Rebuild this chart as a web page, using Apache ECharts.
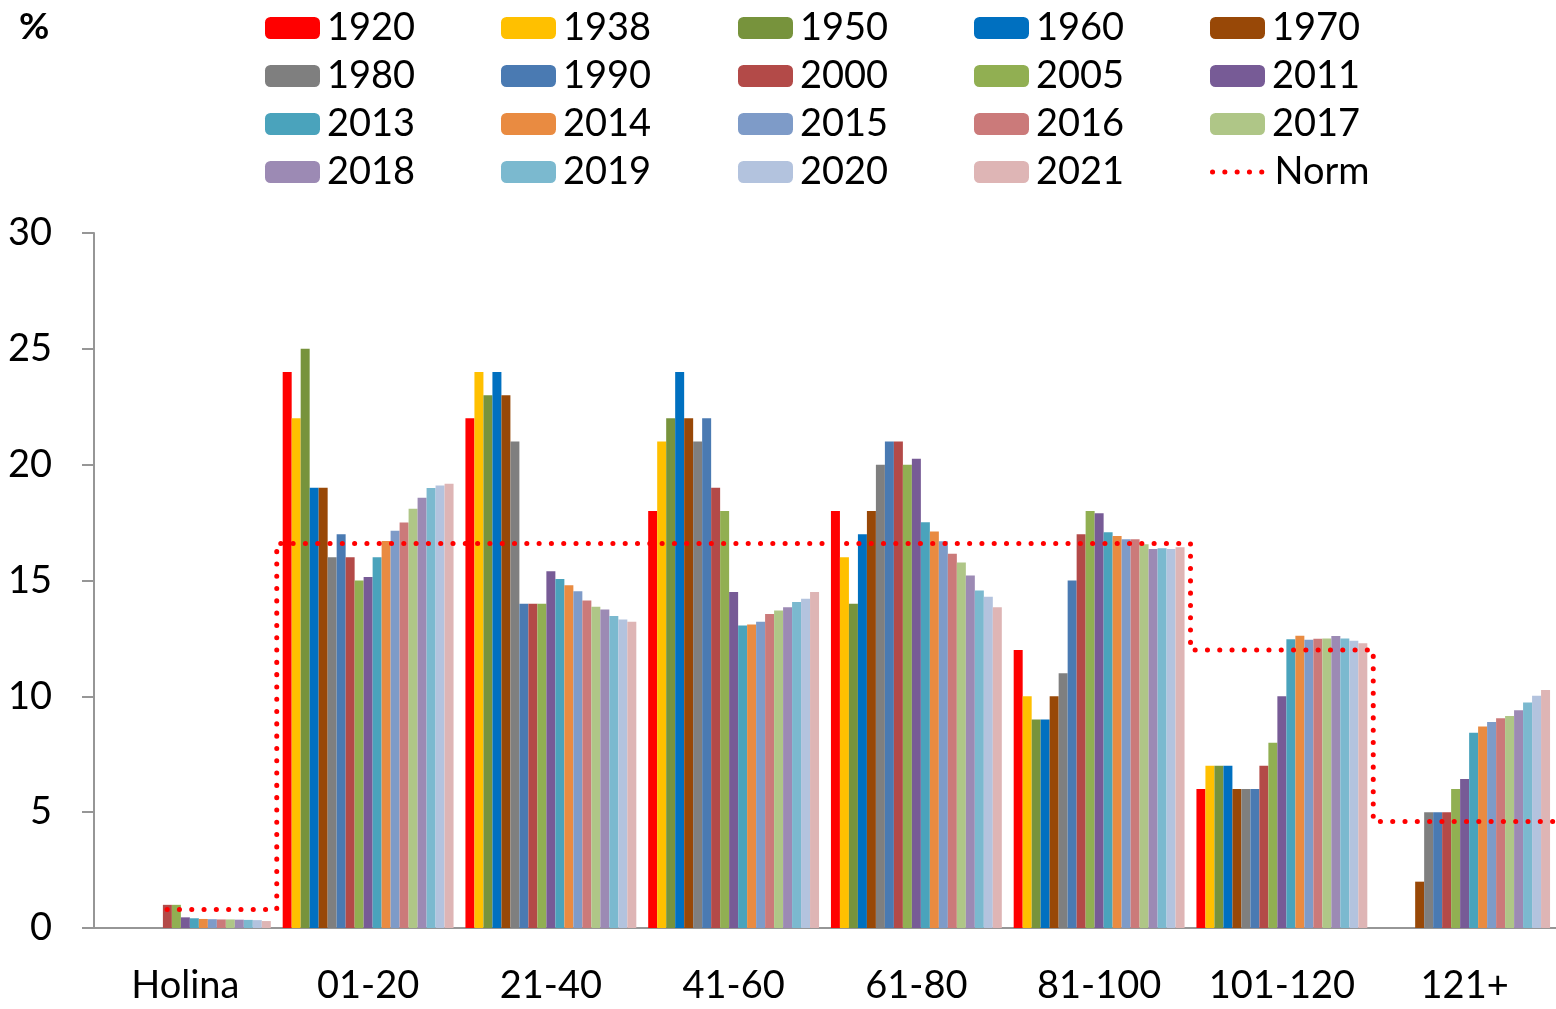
<!DOCTYPE html>
<html>
<head>
<meta charset="utf-8">
<script src="https://cdn.jsdelivr.net/npm/echarts@6/dist/echarts.min.js"></script>
<style>
html,body{margin:0;padding:0;background:#fff;}
#chart{width:1556px;height:1009px;}
</style>
</head>
<body>
<div id="chart"></div>
<script>
// ---- data ----
const categories = ['Holina', '01-20', '21-40', '41-60', '61-80', '81-100', '101-120', '121+'];
const years = ['1920','1938','1950','1960','1970','1980','1990','2000','2005','2011','2013','2014','2015','2016','2017','2018','2019','2020','2021'];
const yTicks = [0, 5, 10, 15, 20, 25, 30];

const s1920 = [0, 24, 22, 18, 18, 12, 6, 0];
const s1938 = [0, 22, 24, 21, 16, 10, 7, 0];
const s1950 = [0, 25, 23, 22, 14, 9, 7, 0];
const s1960 = [0, 19, 24, 24, 17, 9, 7, 0];
const s1970 = [0, 19, 23, 22, 18, 10, 6, 2];
const s1980 = [0, 16, 21, 21, 20, 11, 6, 5];
const s1990 = [0, 17, 14, 22, 21, 15, 6, 5];
const s2000 = [1, 16, 14, 19, 21, 17, 7, 5];
const s2005 = [1, 15, 14, 18, 20, 18, 8, 6];
const s2011 = [0.46, 15.15, 15.4, 14.5, 20.26, 17.9, 10, 6.43];
const s2013 = [0.42, 16.0, 15.06, 13.06, 17.51, 17.08, 12.46, 8.43];
const s2014 = [0.39, 16.7, 14.8, 13.1, 17.12, 16.92, 12.62, 8.7];
const s2015 = [0.38, 17.15, 14.54, 13.22, 16.69, 16.78, 12.44, 8.89];
const s2016 = [0.37, 17.5, 14.14, 13.55, 16.16, 16.78, 12.49, 9.05];
const s2017 = [0.37, 18.1, 13.87, 13.71, 15.78, 16.57, 12.5, 9.15];
const s2018 = [0.36, 18.57, 13.75, 13.84, 15.22, 16.36, 12.6, 9.4];
const s2019 = [0.35, 18.99, 13.47, 14.07, 14.57, 16.39, 12.5, 9.73];
const s2020 = [0.34, 19.1, 13.32, 14.21, 14.3, 16.36, 12.4, 10.03];
const s2021 = [0.30, 19.18, 13.22, 14.5, 13.85, 16.43, 12.29, 10.27];
const seriesValues = [s1920,s1938,s1950,s1960,s1970,s1980,s1990,s2000,s2005,s2011,s2013,s2014,s2015,s2016,s2017,s2018,s2019,s2020,s2021];

// Norm level for each category; the Holina segment starts partway into its category
const normValues = [0.8, 16.6, 16.6, 16.6, 16.6, 16.6, 12, 4.6];
const normStart = 0.4;

// ---- styles ----
const colors = ['#FF0000','#FFC000','#77933C','#0070C0','#984807','#7F7F7F','#4A7AB2','#B34A48','#91AF52','#775B96',
                '#4AA3BC','#E98B41','#7E9BC8','#CB7A7A','#AFC687','#9C8AB4','#7BB9CF','#B3C3DE','#DEB5B5'];
const FONT = 'Lato';
const axisColor = '#969696';
const normLine = { color: '#FF0000', width: 5, type: [0.1, 12.2], cap: 'round' };

// build norm step path (in category units on a hidden value axis)
const normData = [];
normValues.forEach(function (v, i) {
  normData.push([i === 0 ? normStart : i, v]);
  normData.push([i + 1, v]);
});

const series = years.map(function (y, i) {
  return {
    name: y,
    type: 'bar',
    data: seriesValues[i],
    barGap: '0%',
    barCategoryGap: '6.5%',
    itemStyle: { color: colors[i] },
    emphasis: { disabled: true }
  };
});
series.push({
  name: 'Norm',
  type: 'line',
  xAxisIndex: 1,
  data: normData,
  showSymbol: false,
  symbol: 'none',
  lineStyle: normLine,
  itemStyle: { color: '#FF0000' },
  z: 5,
  emphasis: { disabled: true }
});

// legends: 5 columns x 4 rows
const legendNames = years.concat(['Norm']);
const colX = [265, 501, 738, 974, 1210];
const rowY = [17, 65, 113, 161];
const legends = legendNames.map(function (n, i) {
  const lg = {
    data: [n],
    left: colX[i % 5],
    top: rowY[Math.floor(i / 5)] - 8,
    itemWidth: 55,
    itemHeight: 22,
    itemGap: 0,
    padding: 0,
    selectedMode: false,
    textStyle: { fontFamily: FONT, fontSize: 38, color: '#000', padding: [0, 0, 0, 2] }
  };
  if (n === 'Norm') {
    lg.itemStyle = { opacity: 0 };
    lg.lineStyle = normLine;
  }
  return lg;
});

const option = {
  animation: false,
  title: { text: '%', left: 14, top: 4, textStyle: { fontFamily: FONT, fontSize: 37, fontWeight: 'bold', color: '#000' } },
  legend: legends,
  grid: { left: 94, right: 0, top: 233, bottom: 81, containLabel: false },
  xAxis: [{
    type: 'category',
    data: categories,
    axisLine: { lineStyle: { color: axisColor, width: 2 } },
    axisTick: { interval: 0, length: 12, lineStyle: { color: axisColor, width: 2 } },
    axisLabel: { interval: 0, fontFamily: FONT, fontSize: 38, color: '#000', margin: 39 },
    splitLine: { show: false }
  }, {
    type: 'value',
    min: 0,
    max: categories.length,
    show: false
  }],
  yAxis: {
    type: 'value',
    min: yTicks[0],
    max: yTicks[yTicks.length - 1],
    interval: yTicks[1] - yTicks[0],
    axisLine: { show: true, lineStyle: { color: axisColor, width: 2 } },
    axisTick: { show: true, length: 12, lineStyle: { color: axisColor, width: 2 } },
    axisLabel: { fontFamily: FONT, fontSize: 38, color: '#000', margin: 42 },
    splitLine: { show: false }
  },
  series: series
};

const chart = echarts.init(document.getElementById('chart'));
chart.setOption(option);
</script>
</body>
</html>
